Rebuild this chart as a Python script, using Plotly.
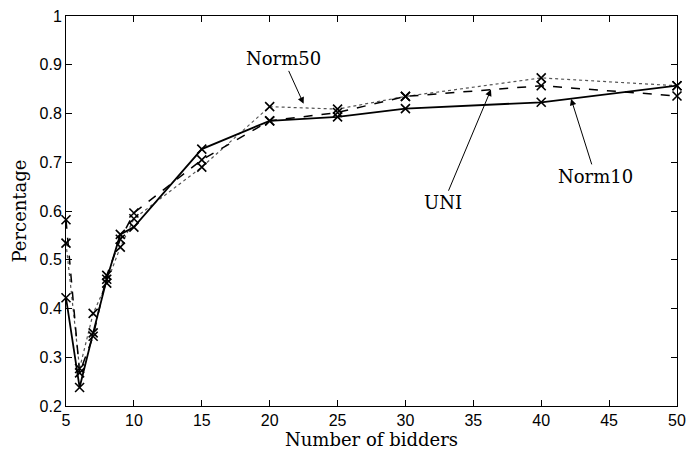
import plotly.graph_objects as go

bidders = [5, 6, 7, 8, 9, 10, 15, 20, 25, 30, 40, 50]
norm10 = [0.422, 0.238, 0.350, 0.460, 0.552, 0.567, 0.727, 0.785, 0.793, 0.810, 0.823, 0.857]
uni = [0.582, 0.268, 0.343, 0.468, 0.542, 0.596, 0.705, 0.785, 0.802, 0.835, 0.857, 0.836]
norm50 = [0.534, 0.277, 0.390, 0.452, 0.526, 0.584, 0.690, 0.814, 0.809, 0.835, 0.873, 0.857]

x_ticks = [5, 10, 15, 20, 25, 30, 35, 40, 45, 50]
y_ticks = [0.2, 0.3, 0.4, 0.5, 0.6, 0.7, 0.8, 0.9, 1.0]
y_labels = ["0.2", "0.3", "0.4", "0.5", "0.6", "0.7", "0.8", "0.9", "1"]

serif = "DejaVu Serif, Liberation Serif, serif"
sans = "Liberation Sans, Arial, sans-serif"

fig = go.Figure()
marker = dict(symbol="x-thin", size=9, line=dict(color="black", width=1.6), color="black")
fig.add_trace(go.Scatter(x=bidders, y=norm50, mode="lines+markers", name="Norm50", cliponaxis=False,
                         line=dict(color="#555555", width=1.2, dash="dot"), marker=marker))
fig.add_trace(go.Scatter(x=bidders, y=uni, mode="lines+markers", name="UNI", cliponaxis=False,
                         line=dict(color="black", width=1.5, dash="dash"), marker=marker))
fig.add_trace(go.Scatter(x=bidders, y=norm10, mode="lines+markers", name="Norm10", cliponaxis=False,
                         line=dict(color="black", width=1.8), marker=marker))

ann_font = dict(family=serif, size=18, color="black")
for txt, hx, hy, tx, ty in [("UNI", 36.3, 0.849, 32.8, 0.617),
                            ("Norm10", 42.2, 0.830, 44.0, 0.671),
                            ("Norm50", 22.5, 0.820, 21.0, 0.912)]:
    fig.add_annotation(x=hx, y=hy, ax=tx, ay=ty, xref="x", yref="y", axref="x", ayref="y",
                       text=txt, showarrow=True, arrowhead=2, arrowsize=1.3, arrowwidth=1,
                       arrowcolor="black", font=ann_font)

axis_common = dict(showgrid=False, zeroline=False, showline=True, linecolor="black", linewidth=1,
                   mirror="ticks", ticks="inside", ticklen=6, tickcolor="black",
                   ticklabeloverflow="allow",
                   tickfont=dict(family=sans, size=16, color="black"))
fig.update_xaxes(range=[5, 50], tickvals=x_ticks,
                 title=dict(text="Number of bidders", standoff=2,
                            font=dict(family=serif, size=18, color="black")),
                 **axis_common)
fig.update_yaxes(range=[0.2, 1.0], tickvals=y_ticks, ticktext=y_labels,
                 title=dict(text="Percentage", standoff=8,
                            font=dict(family=serif, size=18, color="black")),
                 **axis_common)
fig.update_layout(width=694, height=453, margin=dict(l=66, r=8, t=15, b=47),
                  plot_bgcolor="white", paper_bgcolor="white", showlegend=False)
fig.write_html("out.html")
